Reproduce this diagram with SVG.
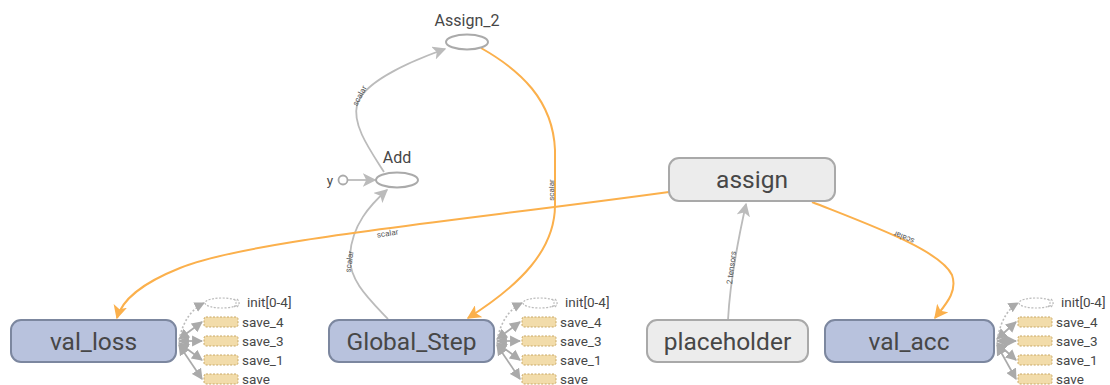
<svg xmlns="http://www.w3.org/2000/svg" width="1110" height="385" viewBox="0 0 1110 385">
  <style>
    .lbl { font-family: Roboto, "Liberation Sans", sans-serif; fill: #474747; }
    .big { font-size: 24.5px; text-anchor: middle; }
    .small { font-size: 16px; text-anchor: middle; }
    .aux-t { font-size: 13.5px; }
    .elbl { font-family: Roboto, "Liberation Sans", sans-serif; font-size: 8px; fill: #555; text-anchor: middle; }
    .var { fill: #b8c2dd; stroke: #7c879f; stroke-width: 2; }
    .op { fill: #ececec; stroke: #a9a9a9; stroke-width: 2; }
    .oval { fill: #fff; stroke: #aaa; stroke-width: 2; }
    .e-gray { fill: none; stroke: #bbb; stroke-width: 1.8; }
    .e-ref { fill: none; stroke: #fbb04c; stroke-width: 2; }
    .e-aux { fill: none; stroke: #aaa; stroke-width: 1.7; }
    .e-aux-dot { fill: none; stroke: #bbb; stroke-width: 1.6; stroke-dasharray: 2 2; }
    .save { fill: #f2dcaa; stroke: #c9a865; stroke-width: 1; stroke-dasharray: 2 1.5; }
    .init { fill: #fff; stroke: #bbb; stroke-width: 1.2; stroke-dasharray: 2 1.5; }
  </style>
  <defs>
    <marker id="arrow-gray" viewBox="0 0 10 10" refX="9" refY="5" markerWidth="7.5" markerHeight="7.5" markerUnits="strokeWidth" orient="auto">
      <path d="M0,0 L10,5 L0,10 L2.5,5 z" fill="#bbb"/>
    </marker>
    <marker id="arrow-ref" viewBox="0 0 10 10" refX="9" refY="5" markerWidth="7" markerHeight="7" markerUnits="strokeWidth" orient="auto">
      <path d="M0,0 L10,5 L0,10 L2.5,5 z" fill="#fbb04c"/>
    </marker>
    <marker id="arrow-aux" viewBox="0 0 10 10" refX="9" refY="5" markerWidth="6.5" markerHeight="6.5" markerUnits="strokeWidth" orient="auto-start-reverse">
      <path d="M0,0 L10,5 L0,10 z" fill="#aaa"/>
    </marker>
    <!-- cluster of auxiliary save/init nodes; origin = left edge of the save boxes, row of the owning node -->
    <g id="aux-cluster">
      <ellipse class="init" cx="18" cy="-38" rx="17" ry="5"/>
      <path class="init" d="M30,-42 Q34,-38 30,-34 M33,-42 Q37,-38 33,-34" fill="none"/>
      <text class="lbl aux-t" x="43" y="-34">init[0-4]</text>
      <rect class="save" x="0" y="-24" width="34" height="10" rx="2"/>
      <rect class="save" x="0" y="-5" width="34" height="10" rx="2"/>
      <rect class="save" x="0" y="14" width="34" height="10" rx="2"/>
      <rect class="save" x="0" y="33" width="34" height="10" rx="2"/>
      <text class="lbl aux-t" x="38" y="-14">save_4</text>
      <text class="lbl aux-t" x="38" y="5">save_3</text>
      <text class="lbl aux-t" x="38" y="24">save_1</text>
      <text class="lbl aux-t" x="38" y="43">save</text>
    </g>
  </defs>

  <rect width="1110" height="385" fill="#fff"/>

  <g id="connectors">
    <!-- y -> Add -->
    <path class="e-gray" d="M348,180 L375,180" marker-end="url(#arrow-gray)"/>
    <!-- Global_Step -> Add -->
    <path class="e-gray" d="M388,319 C370,300 348,280 350,255 C352,225 370,205 387,190" marker-end="url(#arrow-gray)"/>
    <text class="elbl" transform="translate(352,262) rotate(-82)">scalar</text>
    <!-- Add -> Assign_2 -->
    <path class="e-gray" d="M384,172 C370,150 352,125 357,105 C362,85 400,65 445,49" marker-end="url(#arrow-gray)"/>
    <text class="elbl" transform="translate(362,97) rotate(-62)">scalar</text>
    <!-- Assign_2 -> Global_Step (ref) -->
    <path class="e-ref" d="M481,48 C520,70 553,100 555,150 L555,205 C555,250 520,285 468,318" marker-end="url(#arrow-ref)"/>
    <text class="elbl" transform="translate(554,190) rotate(-90)">scalar</text>
    <!-- placeholder -> assign -->
    <path class="e-gray" d="M728,320 C730,280 738,240 746,204" marker-end="url(#arrow-gray)"/>
    <text class="elbl" transform="translate(734,268) rotate(-83)">2 tensors</text>
    <!-- assign -> val_loss (ref) -->
    <path class="e-ref" d="M669,192 C450,222 250,240 180,268 C140,284 122,300 117,318" marker-end="url(#arrow-ref)"/>
    <text class="elbl" transform="translate(388,236) rotate(-9)">scalar</text>
    <!-- assign -> val_acc (ref) -->
    <path class="e-ref" d="M812,202 C870,225 940,250 952,275 C958,292 945,305 935,318" marker-end="url(#arrow-ref)"/>
    <text class="elbl" transform="translate(905,235) rotate(202)">scalar</text>

    <!-- auxiliary edges: val_loss -->
    <g>
      <path class="e-aux" d="M179,339 L202,322" marker-start="url(#arrow-aux)" marker-end="url(#arrow-aux)"/>
      <path class="e-aux" d="M179,341 L202,341" marker-start="url(#arrow-aux)" marker-end="url(#arrow-aux)"/>
      <path class="e-aux" d="M179,343 L202,360" marker-start="url(#arrow-aux)" marker-end="url(#arrow-aux)"/>
      <path class="e-aux" d="M179,345 L202,379" marker-start="url(#arrow-aux)" marker-end="url(#arrow-aux)"/>
      <path class="e-aux-dot" d="M180,336 Q186,312 204,303" marker-end="url(#arrow-aux)"/>
    </g>
    <!-- auxiliary edges: Global_Step -->
    <g>
      <path class="e-aux" d="M497,339 L520,322" marker-start="url(#arrow-aux)" marker-end="url(#arrow-aux)"/>
      <path class="e-aux" d="M497,341 L520,341" marker-start="url(#arrow-aux)" marker-end="url(#arrow-aux)"/>
      <path class="e-aux" d="M497,343 L520,360" marker-start="url(#arrow-aux)" marker-end="url(#arrow-aux)"/>
      <path class="e-aux" d="M497,345 L520,379" marker-start="url(#arrow-aux)" marker-end="url(#arrow-aux)"/>
      <path class="e-aux-dot" d="M498,336 Q504,312 522,303" marker-end="url(#arrow-aux)"/>
    </g>
    <!-- auxiliary edges: val_acc -->
    <g>
      <path class="e-aux" d="M997,339 L1016,322" marker-start="url(#arrow-aux)" marker-end="url(#arrow-aux)"/>
      <path class="e-aux" d="M997,341 L1016,341" marker-start="url(#arrow-aux)" marker-end="url(#arrow-aux)"/>
      <path class="e-aux" d="M997,343 L1016,360" marker-start="url(#arrow-aux)" marker-end="url(#arrow-aux)"/>
      <path class="e-aux" d="M997,345 L1016,379" marker-start="url(#arrow-aux)" marker-end="url(#arrow-aux)"/>
      <path class="e-aux-dot" d="M998,336 Q1003,312 1018,303" marker-end="url(#arrow-aux)"/>
    </g>
  </g>

  <g id="node-Assign_2">
    <text class="lbl small" x="467" y="26">Assign_2</text>
    <ellipse class="oval" cx="467" cy="42" rx="21" ry="7.5"/>
  </g>

  <g id="node-Add">
    <text class="lbl small" x="397" y="163">Add</text>
    <ellipse class="oval" cx="397" cy="180" rx="21" ry="7.5"/>
  </g>

  <g id="node-y">
    <text class="lbl" x="330" y="185" font-size="13.5" text-anchor="middle">y</text>
    <circle cx="343" cy="180" r="4.5" fill="#fff" stroke="#aaa" stroke-width="1.8"/>
  </g>

  <g id="node-assign">
    <rect class="op" x="669" y="158" width="166" height="43" rx="10"/>
    <text class="lbl big" x="752" y="188">assign</text>
  </g>

  <g id="node-val_loss">
    <rect class="var" x="11" y="320" width="165" height="42" rx="10"/>
    <text class="lbl big" x="93.5" y="349.5">val_loss</text>
    <use href="#aux-cluster" transform="translate(204,341)"/>
  </g>

  <g id="node-Global_Step">
    <rect class="var" x="329" y="320" width="165" height="42" rx="10"/>
    <text class="lbl big" x="411.5" y="349.5">Global_Step</text>
    <use href="#aux-cluster" transform="translate(522,341)"/>
  </g>

  <g id="node-placeholder">
    <rect class="op" x="647" y="320" width="161" height="42" rx="10"/>
    <text class="lbl big" x="727.5" y="349.5">placeholder</text>
  </g>

  <g id="node-val_acc">
    <rect class="var" x="825" y="320" width="169" height="42" rx="10"/>
    <text class="lbl big" x="909" y="349.5">val_acc</text>
    <use href="#aux-cluster" transform="translate(1018,341)"/>
  </g>
</svg>
